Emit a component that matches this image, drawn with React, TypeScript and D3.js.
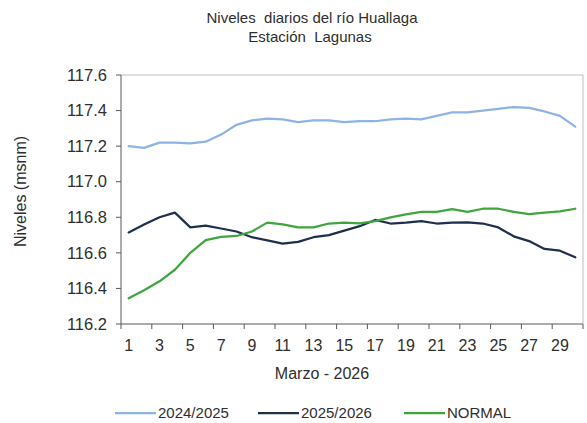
import React from "react";
import * as d3 from "d3";

// dias de marzo
const days = d3.range(1, 31);

const serie2425 = [
  117.2, 117.19, 117.22, 117.22, 117.215, 117.225, 117.265, 117.32, 117.345, 117.355,
  117.35, 117.335, 117.345, 117.345, 117.335, 117.34, 117.34, 117.35, 117.355, 117.35,
  117.37, 117.39, 117.39, 117.4, 117.41, 117.42, 117.415, 117.395, 117.37, 117.31,
];

const serie2526 = [
  116.715, 116.76, 116.8, 116.826, 116.743, 116.753, 116.737, 116.72, 116.688, 116.67,
  116.652, 116.662, 116.688, 116.7, 116.725, 116.75, 116.785, 116.765, 116.77, 116.778,
  116.765, 116.77, 116.772, 116.765, 116.743, 116.693, 116.666, 116.622, 116.612, 116.575,
];

const normal = [
  116.345, 116.39, 116.44, 116.505, 116.6, 116.672, 116.69, 116.695, 116.72, 116.77,
  116.76, 116.743, 116.743, 116.765, 116.77, 116.766, 116.778, 116.8, 116.816, 116.83,
  116.83, 116.846, 116.83, 116.848, 116.848, 116.83, 116.818, 116.826, 116.833, 116.848,
];

const yTicks = [116.2, 116.4, 116.6, 116.8, 117.0, 117.2, 117.4, 117.6];
const xLabels = [1, 3, 5, 7, 9, 11, 13, 15, 17, 19, 21, 23, 25, 27, 29];

const seriesNames = ["2024/2025", "2025/2026", "NORMAL"];
const seriesColors = ["#8db4e2", "#1f304e", "#3fa63f"];

const W = 587;
const H = 423;
const plot = { left: 121, right: 583, top: 75, bottom: 324 };
const font = "'Liberation Sans', Arial, sans-serif";
const textColor = "#2e2e2e";

export default function App() {
  const x = d3
    .scaleBand<number>()
    .domain(days)
    .range([plot.left, plot.right])
    .padding(0);
  const y = d3.scaleLinear().domain([116.2, 117.6]).range([plot.bottom, plot.top]);

  const line = d3
    .line<number>()
    .x((_, i) => (x(days[i]) as number) + x.bandwidth() / 2)
    .y((d) => y(d));

  const allSeries = [serie2425, serie2526, normal];

  // marcas del eje x en los limites, cada 2 dias
  const xTickPos = d3.range(0, days.length + 1, 2).map((i) => plot.left + i * x.step());

  const legendX = [115, 258, 404];

  return (
    <svg
      width={W}
      height={H}
      style={{ position: "absolute", left: 0, top: 0, background: "#fff" }}
      fontFamily={font}
    >
      {/* titulo */}
      <text x={312} y={23} textAnchor="middle" fontSize={15} fill={textColor} style={{ whiteSpace: "pre" }}>
        {"Niveles  diarios del río Huallaga"}
      </text>
      <text x={310} y={42} textAnchor="middle" fontSize={15} fill={textColor} style={{ whiteSpace: "pre" }}>
        {"Estación  Lagunas"}
      </text>

      {/* borde del area */}
      <line x1={plot.left} x2={plot.right} y1={plot.top} y2={plot.top} stroke="#bfbfbf" />
      <line x1={plot.right} x2={plot.right} y1={plot.top} y2={plot.bottom} stroke="#bfbfbf" />

      {/* eje y */}
      <line x1={plot.left} x2={plot.left} y1={plot.top} y2={plot.bottom} stroke="#595959" />
      {yTicks.map((t) => (
        <g key={t}>
          <line x1={plot.left - 5} x2={plot.left} y1={y(t)} y2={y(t)} stroke="#595959" />
          <text x={plot.left - 14} y={y(t)} dy="0.35em" textAnchor="end" fontSize={16.5} fill={textColor}>
            {t.toFixed(1)}
          </text>
        </g>
      ))}

      {/* eje x */}
      <line x1={plot.left} x2={plot.right} y1={plot.bottom} y2={plot.bottom} stroke="#595959" />
      {xTickPos.map((p, i) => (
        <line key={i} x1={p} x2={p} y1={plot.bottom} y2={plot.bottom + 5} stroke="#595959" />
      ))}
      {xLabels.map((d) => (
        <text
          key={d}
          x={(x(d) as number) + x.bandwidth() / 2}
          y={345}
          dy="0.35em"
          textAnchor="middle"
          fontSize={16}
          fill={textColor}
        >
          {d}
        </text>
      ))}

      <text x={322} y={373} dy="0.35em" textAnchor="middle" fontSize={16} fill={textColor}>
        Marzo - 2026
      </text>
      <text
        transform={`translate(20,${(plot.top + plot.bottom) / 2 - 8}) rotate(-90)`}
        textAnchor="middle"
        dy="0.35em"
        fontSize={16}
        fill={textColor}
      >
        Niveles (msnm)
      </text>

      {/* series */}
      {allSeries.map((s, i) => (
        <path
          key={i}
          d={line(s) as string}
          fill="none"
          stroke={seriesColors[i]}
          strokeWidth={2.25}
          strokeLinejoin="round"
          strokeLinecap="round"
        />
      ))}

      {/* leyenda */}
      {seriesNames.map((n, i) => (
        <g key={n}>
          <line x1={legendX[i]} x2={legendX[i] + 41} y1={413} y2={413} stroke={seriesColors[i]} strokeWidth={2.25} />
          <text x={legendX[i] + 43} y={413} dy="0.35em" fontSize={15} fill={textColor}>
            {n}
          </text>
        </g>
      ))}
    </svg>
  );
}
